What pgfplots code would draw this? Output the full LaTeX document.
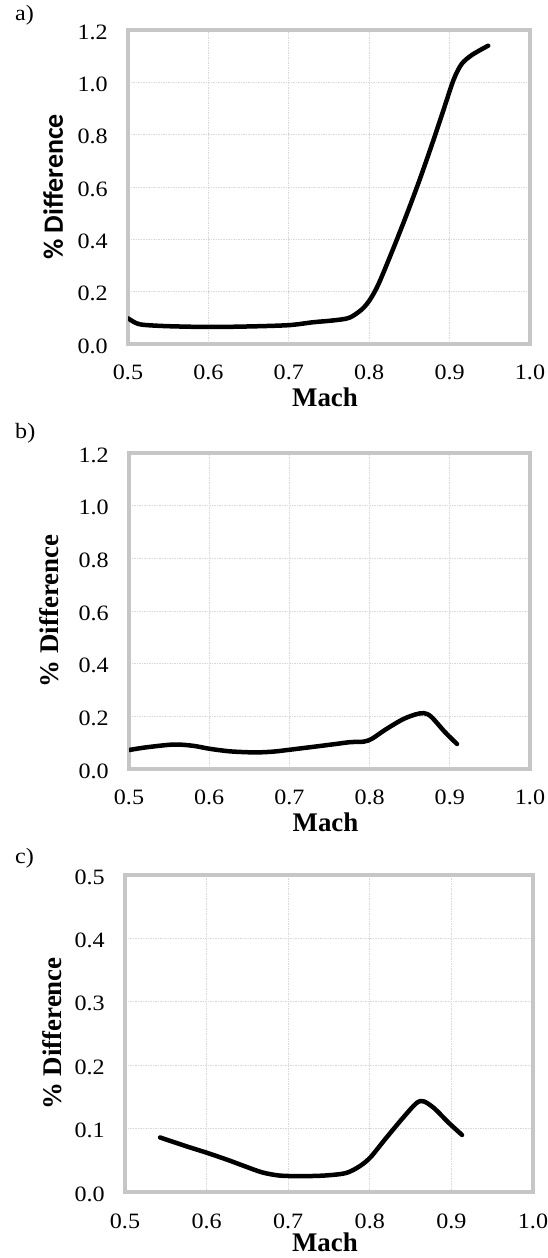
\documentclass[border=0pt]{standalone}
\usepackage{fontspec}
\setmainfont{Liberation Serif}
\newfontfamily\tickfont{Liberation Serif}[FakeStretch=1.1]
\newfontfamily\labsans{Carlito}
\usepackage{pgfplots}
\pgfplotsset{compat=1.18}

\pgfplotstableread{
x y
0.500 0.098
0.510 0.080
0.520 0.073
0.550 0.068
0.600 0.065
0.650 0.067
0.700 0.072
0.730 0.083
0.755 0.090
0.775 0.100
0.790 0.130
0.800 0.165
0.811 0.225
0.828 0.350
0.846 0.490
0.863 0.630
0.880 0.780
0.893 0.900
0.905 1.010
0.915 1.070
0.928 1.105
0.948 1.140
}\dataA

\pgfplotstableread{
x y
0.500 0.072
0.521 0.082
0.556 0.093
0.580 0.088
0.600 0.077
0.626 0.067
0.657 0.063
0.680 0.066
0.700 0.073
0.732 0.085
0.758 0.095
0.776 0.102
0.793 0.104
0.803 0.115
0.820 0.150
0.841 0.188
0.857 0.207
0.868 0.212
0.877 0.198
0.894 0.140
0.909 0.095
}\dataB

\pgfplotstableread{
x y
0.543 0.086
0.573 0.073
0.600 0.062
0.625 0.051
0.646 0.041
0.668 0.031
0.689 0.026
0.715 0.025
0.745 0.026
0.771 0.030
0.788 0.041
0.801 0.055
0.818 0.082
0.840 0.116
0.857 0.140
0.866 0.143
0.879 0.132
0.896 0.110
0.913 0.090
}\dataC

\pgfplotsset{panel/.style={
  scale only axis, anchor=south west,
  xmin=0.5, xmax=1.0, ymin=0,
  xtick={0.5,0.6,0.7,0.8,0.9,1.0},
  xticklabels={0.5,0.6,0.7,0.8,0.9,1.0},
  major tick length=0pt,
  tick style={draw=none},
  grid=major,
  major grid style={gray!30, line width=0.7bp, dash pattern=on 1.5bp off 1bp},
  axis line style={draw=gray!45, line width=3.5bp},
  ticklabel style={font=\tickfont\fontsize{22}{26}\selectfont},
  xticklabel style={anchor=base, inner sep=0pt, yshift=-36bp},
  yticklabel style={anchor=east, inner sep=0pt, xshift=-20bp, yshift=-2bp},
  xlabel={Mach},
  xlabel style={at={(axis description cs:0.49,0)}, anchor=base, inner sep=0pt, yshift=-63bp, font=\bfseries\fontsize{27}{32}\selectfont},
  ylabel={\% Difference},
}}

\begin{document}
\begin{tikzpicture}
\useasboundingbox (0,0) rectangle (548bp,1258bp);

% panel a
\begin{axis}[panel, at={(128bp,914bp)}, width=402bp, height=314bp,
  ymax=1.2, ytick={0,0.2,0.4,0.6,0.8,1.0,1.2},
  yticklabels={0.0,0.2,0.4,0.6,0.8,1.0,1.2},
  ylabel style={at={(axis description cs:-0.162,0.5)}, anchor=base, font=\labsans\bfseries\fontsize{28}{32}\selectfont}]
\addplot[black, line width=4.5bp, line cap=round, smooth, tension=0.5] table[x=x,y=y] {\dataA};
\end{axis}

% panel b
\begin{axis}[panel, at={(129bp,489bp)}, width=401bp, height=316bp,
  ymax=1.2, ytick={0,0.2,0.4,0.6,0.8,1.0,1.2},
  yticklabels={0.0,0.2,0.4,0.6,0.8,1.0,1.2},
  ylabel style={at={(axis description cs:-0.175,0.5)}, anchor=base, font=\bfseries\fontsize{27}{32}\selectfont}]
\addplot[black, line width=4.5bp, line cap=round, smooth, tension=0.5] table[x=x,y=y] {\dataB};
\end{axis}

% panel c
\begin{axis}[panel, at={(125bp,66bp)}, width=408bp, height=317bp,
  ymax=0.5, ytick={0,0.1,0.2,0.3,0.4,0.5},
  yticklabels={0.0,0.1,0.2,0.3,0.4,0.5},
  xlabel style={yshift=4bp},
  ylabel style={at={(axis description cs:-0.155,0.5)}, anchor=base, font=\bfseries\fontsize{27}{32}\selectfont}]
\addplot[black, line width=4.5bp, line cap=round, smooth, tension=0.5] table[x=x,y=y] {\dataC};
\end{axis}

\node[anchor=base west, inner sep=0pt, font=\tickfont\fontsize{22}{26}\selectfont] at (15bp,1237bp) {a)};
\node[anchor=base west, inner sep=0pt, font=\tickfont\fontsize{22}{26}\selectfont] at (15bp,819bp) {b)};
\node[anchor=base west, inner sep=0pt, font=\tickfont\fontsize{22}{26}\selectfont] at (15bp,394bp) {c)};
\end{tikzpicture}
\end{document}
